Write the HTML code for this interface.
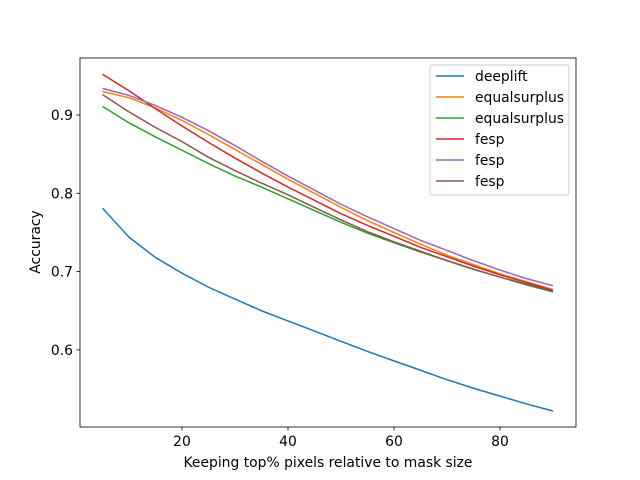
<!DOCTYPE html>
<html><head><meta charset="utf-8"><style>body{margin:0;background:#fff}svg{display:block;font-family:"DejaVu Sans","Liberation Sans",sans-serif}</style></head>
<body>
<svg id="chart" width="640" height="480"></svg>
<script>
const xs=[5,10,15,20,25,30,35,40,45,50,55,60,65,70,75,80,85,90];
const deeplift=[0.781,0.744,0.718,0.698,0.680,0.665,0.650,0.637,0.624,0.611,0.598,0.586,0.574,0.562,0.551,0.541,0.531,0.522];
const equal1=[0.930,0.922,0.909,0.893,0.875,0.856,0.837,0.818,0.800,0.782,0.765,0.750,0.735,0.721,0.709,0.697,0.687,0.677];
const equal2=[0.911,0.890,0.872,0.855,0.838,0.822,0.808,0.793,0.778,0.763,0.749,0.737,0.725,0.714,0.703,0.693,0.683,0.674];
const fesp1=[0.952,0.931,0.908,0.886,0.865,0.845,0.826,0.808,0.791,0.774,0.759,0.745,0.731,0.719,0.707,0.696,0.686,0.676];
const fesp2=[0.934,0.925,0.912,0.897,0.880,0.861,0.841,0.822,0.804,0.786,0.770,0.755,0.740,0.727,0.714,0.702,0.691,0.682];
const fesp3=[0.926,0.904,0.884,0.866,0.846,0.829,0.813,0.798,0.782,0.766,0.751,0.738,0.726,0.714,0.703,0.693,0.684,0.675];
const series=[["deeplift",deeplift,"#1f77b4"],["equalsurplus",equal1,"#ff7f0e"],["equalsurplus",equal2,"#2ca02c"],["fesp",fesp1,"#d62728"],["fesp",fesp2,"#9467bd"],["fesp",fesp3,"#8c564b"]];
const xTicks=[20,40,60,80];
const yTicks=[0.6,0.7,0.8,0.9];
const L=80,R=576,T=58,B=427;
const X=v=>76+(v)*5.3;
const Y=v=>115+(0.9-v)*783;
const svg=document.getElementById('chart');
const NS='http://www.w3.org/2000/svg';
function mk(t,a,p){const e=document.createElementNS(NS,t);for(const k in a)e.setAttribute(k,a[k]);(p||svg).appendChild(e);return e;}
series.forEach((s,i)=>{
  const p=mk('polyline',{points:xs.map((x,j)=>X(x)+','+Y(s[1][j])).join(' '),fill:'none',stroke:s[2],'stroke-width':1.5});
  
  
});
const frame=mk('rect',{x:L,y:T,width:R-L,height:B-T,fill:'none',stroke:'#000','stroke-width':0.8});


xTicks.forEach(t=>{
  mk('line',{x1:X(t),x2:X(t),y1:B,y2:B+3.5,stroke:'#000','stroke-width':0.8});
  const tx=mk('text',{x:X(t),y:B+19,'text-anchor':'middle','font-size':13.9});tx.textContent=t;
  
  
});
yTicks.forEach(t=>{
  mk('line',{x1:L,x2:L-3.5,y1:Y(t),y2:Y(t),stroke:'#000','stroke-width':0.8});
  const tx=mk('text',{x:L-7,y:Y(t)+5,'text-anchor':'end','font-size':13.9});tx.textContent=t.toFixed(1);
  
  
});
const xt=mk('text',{x:328,y:467,'text-anchor':'middle','font-size':13.9});xt.textContent='Keeping top% pixels relative to mask size';


const yt=mk('text',{x:0,y:0,'text-anchor':'middle','font-size':13.9,transform:'translate(40,242) rotate(-90)'});yt.textContent='Accuracy';


const lg=mk('g',{});


mk('rect',{x:430,y:65,width:139,height:130,rx:2,fill:'#fff','fill-opacity':0.8,stroke:'#ccc'},lg);
series.forEach((s,i)=>{
  const y=76+i*21;
  const e=mk('g',{},lg);
  
  
  mk('line',{x1:436,x2:464,y1:y,y2:y,stroke:s[2],'stroke-width':1.5},e);
  const t=mk('text',{x:475,y:y+5,'font-size':13.9},e);t.textContent=s[0];
});
</script>
</body></html>
